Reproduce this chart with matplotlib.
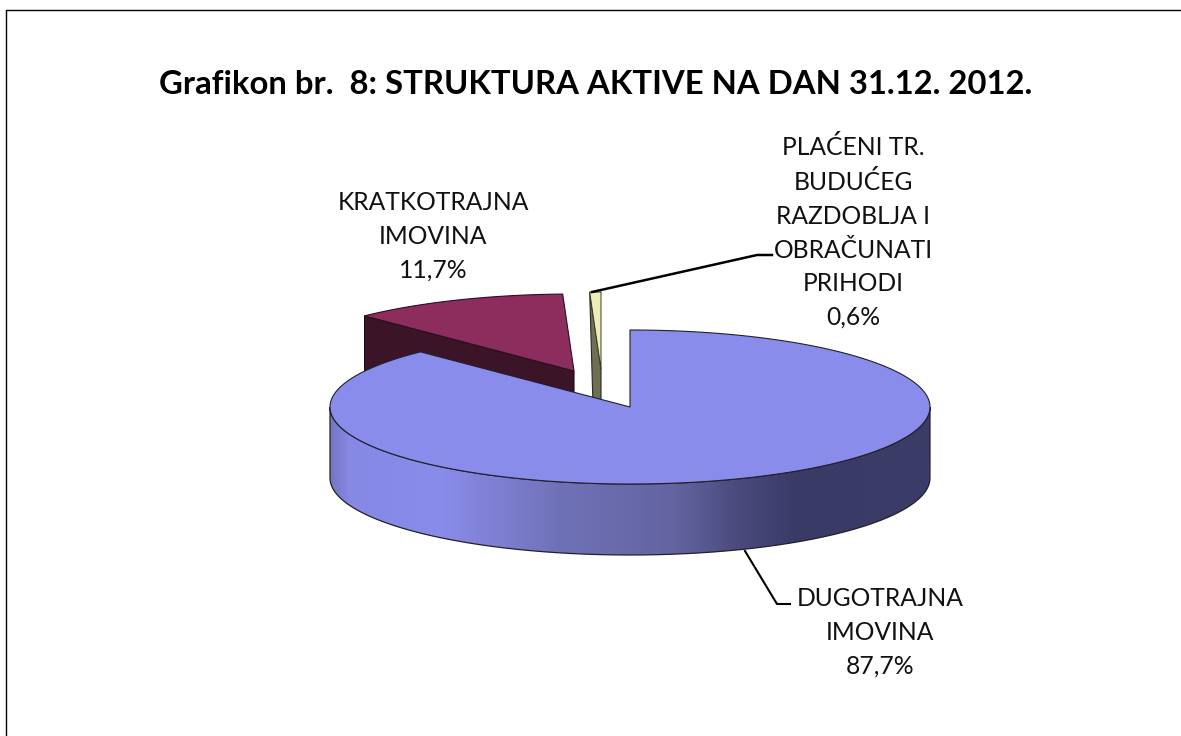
from __future__ import annotations

import matplotlib

matplotlib.use("Agg")

import matplotlib.pyplot as plt
import numpy as np
from matplotlib.colors import LinearSegmentedColormap
from matplotlib.patches import PathPatch, Polygon
from matplotlib.path import Path

TITLE = "Grafikon br.  8: STRUKTURA AKTIVE NA DAN 31.12. 2012."
names = [
    "DUGOTRAJNA\nIMOVINA",
    "KRATKOTRAJNA\nIMOVINA",
    "PLAĆENI TR.\nBUDUĆEG\nRAZDOBLJA I\nOBRAČUNATI\nPRIHODI",
]
shares = [87.7, 11.7, 0.6]

W, H = 1181, 736
CX, CY = 630, 407  # pie centre in image pixels
RX, RY = 300, 77
DEPTH = 71
EDGE = "#20202c"


def arc(start, end, cx=CX, cy=CY, n=200):
    t = np.radians(np.linspace(start, end, n))
    return np.column_stack([cx + RX * np.cos(t), cy - RY * np.sin(t)])


def label(share):
    return f"{share:.1f}%".replace(".", ",")


def main() -> None:
    sweep = np.array(shares) / sum(shares) * 360
    ends = 90 - np.cumsum(sweep)
    starts = np.concatenate([[90], ends[:-1]])

    fig = plt.figure(figsize=(W / 100, H / 100), dpi=100)
    ax = fig.add_axes([0, 0, 1, 1])
    ax.axis("off")

    # small slice, pulled out towards the upper left
    c3 = np.array([601, 369])
    top3 = arc(starts[2], ends[2], *c3)
    ax.add_patch(
        Polygon([top3[0], c3, c3 + [0, DEPTH], c3 + [-7, DEPTH]], fc="#6f6f55", ec="#2a2a20", lw=0.8, zorder=2)
    )
    ax.add_patch(Polygon(np.vstack([c3, top3]), fc="#eeedb8", ec="#3a3a28", lw=0.7, zorder=3))

    # second slice with its dark cut face
    c2 = np.array([574, 371])
    top2 = arc(starts[1], ends[1], *c2)
    outer = top2[0]
    ax.add_patch(Polygon([outer, c2, c2 + [0, DEPTH], outer + [0, DEPTH]], fc="#3c1428", ec="#1a0a12", lw=0.8, zorder=4))
    ax.add_patch(Polygon(np.vstack([c2, top2]), fc="#8c2d5e", ec="#2a1020", lw=0.8, zorder=5))

    # rim of the big slice with the horizontal shading
    rim = np.vstack([arc(180, 360), arc(360, 180) + [0, DEPTH]])
    rim_patch = PathPatch(Path(np.vstack([rim, rim[0]])), fc="none", ec=EDGE, lw=0.9, zorder=7)
    ax.add_patch(rim_patch)
    shade = LinearSegmentedColormap.from_list(
        "rim",
        [
            (0.0, "#7577c4"),
            (0.03, "#8688e4"),
            (0.18, "#8a8ceb"),
            (0.38, "#7072b8"),
            (0.58, "#62639f"),
            (0.68, "#4a4a7e"),
            (0.78, "#3a3a66"),
            (1.0, "#3c3c68"),
        ],
    )
    image = ax.imshow(
        np.linspace(0, 1, 600)[None, :],
        cmap=shade,
        extent=[CX - RX, CX + RX, CY + RY + DEPTH, CY],
        aspect="auto",
        zorder=6,
    )
    image.set_clip_path(rim_patch)

    # top of the big slice
    top1 = arc(starts[0], ends[0])
    ax.add_patch(Polygon(np.vstack([[CX, CY], top1]), fc="#8a8ceb", ec=EDGE, lw=0.8, zorder=8))

    # leader lines
    ax.plot([592, 757, 772], [292, 255, 255], color="black", lw=1.8, zorder=9)
    ax.plot([745, 777, 790], [551, 604, 604], color="black", lw=1.5, zorder=9)

    # frame of the original chart area
    ax.plot([W, 6, 6], [10, 10, H], color="black", lw=1.0, zorder=1)

    ax.set_xlim(0, W)
    ax.set_ylim(H, 0)

    font = ["Lato", "DejaVu Sans"]
    ax.text(596, 85, TITLE, ha="center", va="center", fontsize=23.7, fontweight="bold", family=font)
    spots = [(880, 632), (433, 236), (853, 232)]
    for name, share, (x, y) in zip(names, shares, spots):
        ax.text(
            x, y, f"{name}\n{label(share)}", ha="center", va="center",
            fontsize=17.7, family=font, linespacing=1.56, color="#111111",
        )

    fig.savefig("out.png", dpi=100)
    plt.close(fig)


if __name__ == "__main__":
    main()
